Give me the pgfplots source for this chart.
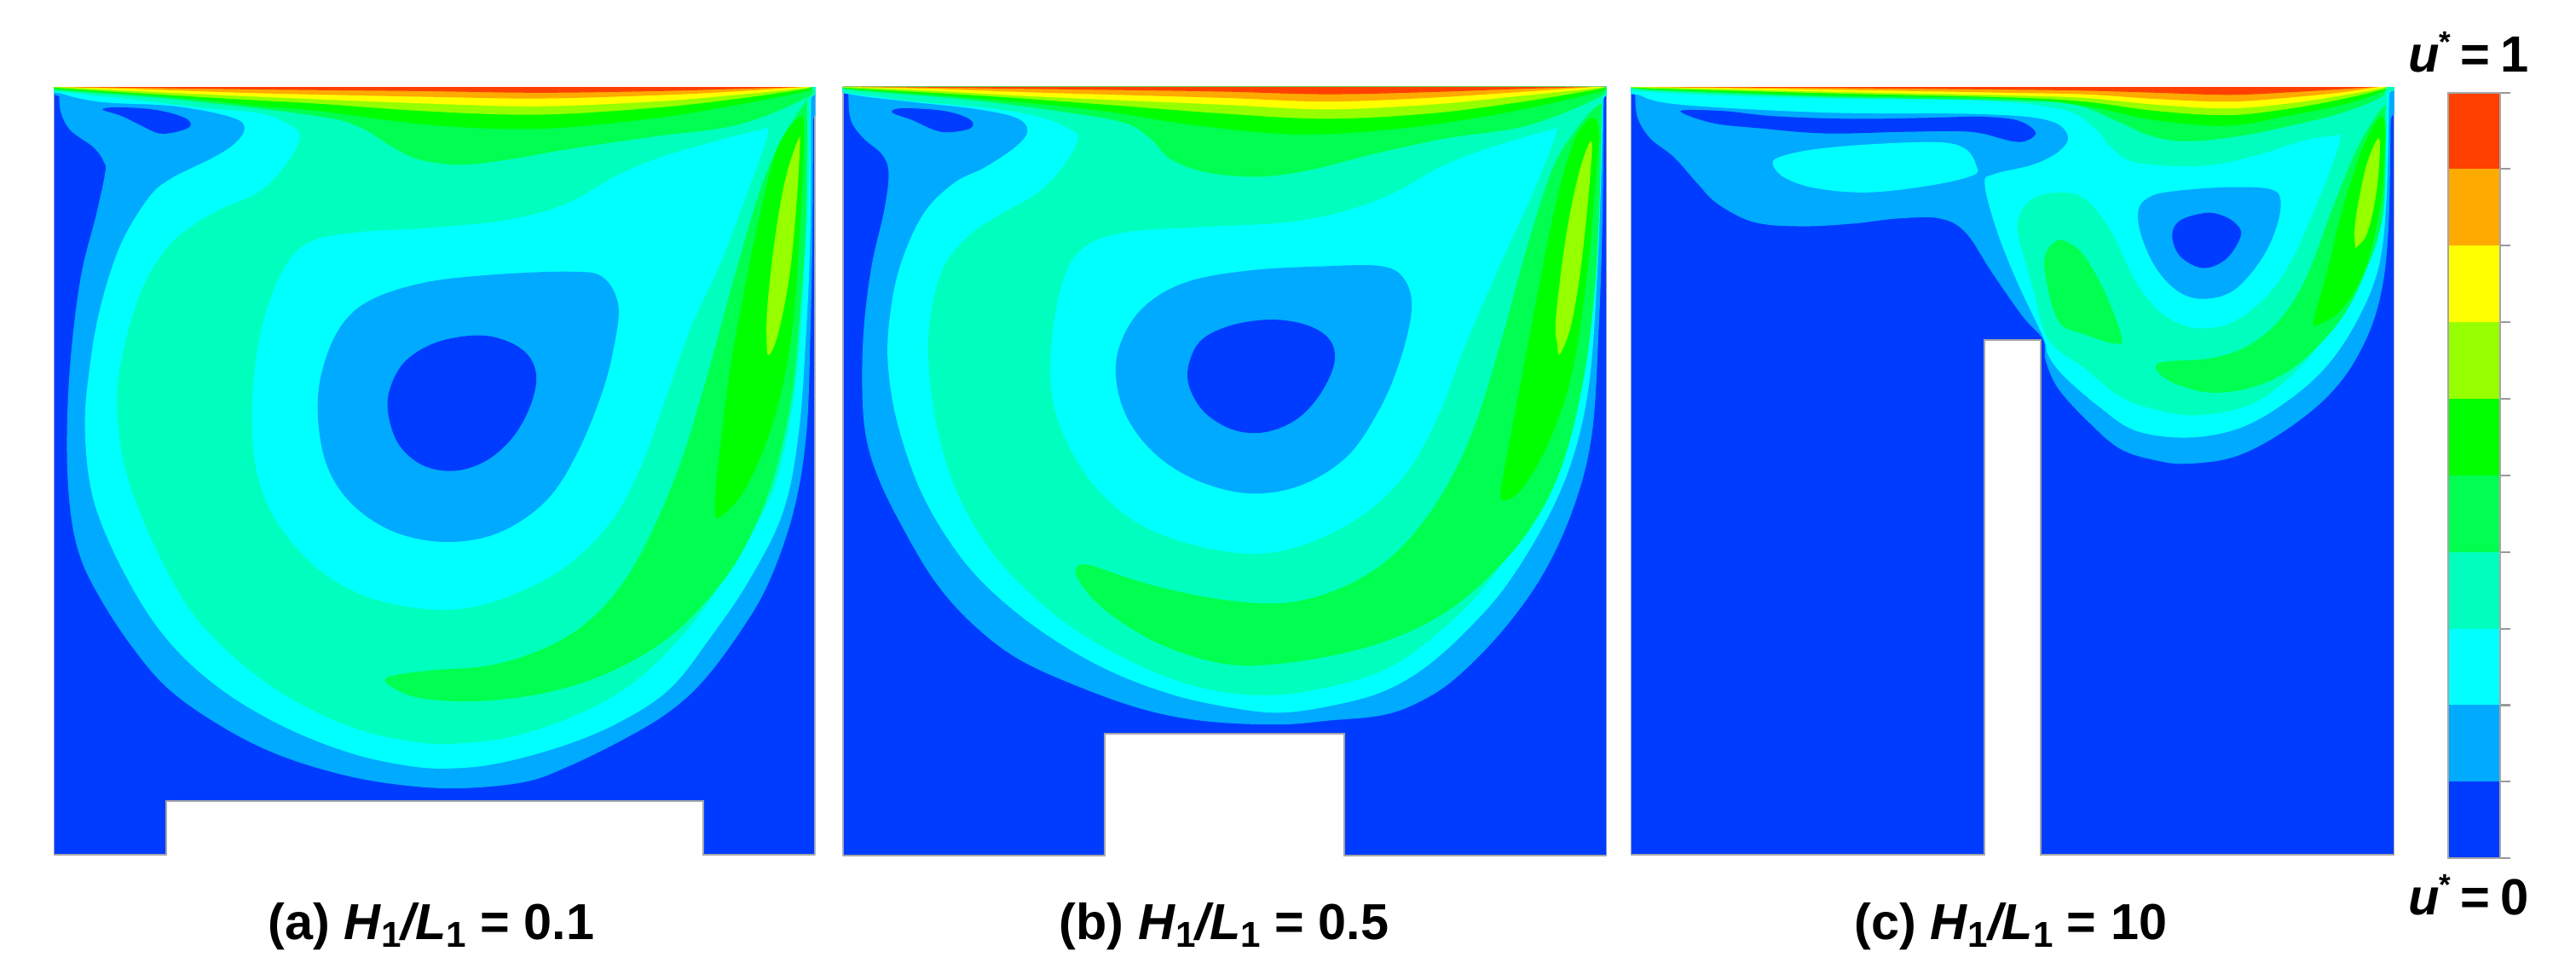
\documentclass[border=0pt]{standalone}
\usepackage{fontspec}
\setmainfont{Liberation Sans}
\usepackage{pgfplots}
\pgfplotsset{compat=1.18}

\definecolor{c0}{RGB}{0,60,255}
\definecolor{c1}{RGB}{0,170,255}
\definecolor{c2}{RGB}{0,255,255}
\definecolor{c3}{RGB}{0,255,190}
\definecolor{c4}{RGB}{0,255,80}
\definecolor{c5}{RGB}{0,255,0}
\definecolor{c6}{RGB}{150,255,0}
\definecolor{c7}{RGB}{255,255,0}
\definecolor{c8}{RGB}{255,170,0}
\definecolor{c9}{RGB}{255,64,0}

% closed contour, and a band hanging from the lid
\newcommand{\blob}[2]{\addplot[fill=#1,draw=none,smooth cycle,tension=0.6] coordinates {#2};}
\newcommand{\band}[2]{\addplot[fill=#1,draw=none,smooth,tension=0.6] coordinates {#2};}
\newcommand{\wall}[1]{\addplot[fill=c0,draw=gray!70,line width=0.6pt,sharp plot] coordinates {#1} --cycle;}

\pgfplotsset{panel/.style={
  scale only axis, hide axis, no marks, y dir=reverse, anchor=south west}}

\newcommand{\sub}{\raisebox{-0.28ex}{\fontsize{12}{12}\selectfont 1}}
\newcommand{\capt}[1]{\fontsize{16.9}{20}\selectfont\bfseries #1 \textit{H}\sub\textit{/L}\sub}
\newcommand{\ustar}{\fontsize{17}{20}\selectfont\bfseries\textit{u}\kern-0.02em\raisebox{0.75ex}{\fontsize{10}{10}\selectfont *}\kern0.2em=\kern0.2em}

\begin{document}
\begin{tikzpicture}
\path[use as bounding box] (0,0) rectangle (30.22,11.5);

%% (a) H1/L1 = 0.1
\begin{axis}[panel, at={(0.633cm,1.467cm)}, width=8.93cm, height=9.012cm,
  xmin=38, xmax=1512, ymin=36, ymax=1508]
\wall{(38,36)(1512,36)(1512,1508)(1295,1508)(1295,1404)(255,1404)(255,1508)(38,1508)}
\blob{c1}{(48,36)(48,54)(52,87)(71,120)(115,152)(135,180)(137,201)(120,280)(90,400)(70,560)(63,720)(70,850)(90,940)(130,1020)(190,1110)(260,1190)(360,1260)(470,1315)(600,1355)(720,1375)(830,1380)(950,1368)(1030,1340)(1130,1292)(1220,1240)(1290,1180)(1360,1090)(1420,990)(1470,850)(1495,700)(1503,500)(1507,300)(1508,100)(1508,36)}
\blob{c0}{(132,79)(165,75)(236,80)(291,95)(302,111)(275,122)(242,125)(209,111)(170,92)}
\blob{c2}{(55,36)(55,49)(132,65)(275,73)(385,95)(407,117)(385,147)(341,174)(264,212)(220,250)(165,343)(125,470)(105,590)(98,680)(105,780)(125,860)(170,960)(230,1060)(300,1140)(390,1210)(500,1270)(620,1315)(730,1338)(810,1342)(900,1332)(1020,1300)(1130,1255)(1230,1190)(1310,1090)(1385,980)(1450,850)(1480,700)(1495,500)(1503,300)(1504,60)(1504,36)}
\blob{c3}{(100,36)(100,50)(165,57)(330,76)(440,87)(495,109)(514,130)(495,174)(440,234)(357,272)(302,305)(258,343)(210,420)(175,530)(160,630)(170,740)(200,840)(250,950)(310,1050)(400,1140)(500,1210)(620,1265)(730,1290)(810,1295)(930,1280)(1060,1235)(1170,1170)(1270,1070)(1340,970)(1395,880)(1440,780)(1475,600)(1490,400)(1500,200)(1502,60)(1502,36)}
\blob{c2}{(1420,125)(1400,120)(1300,145)(1200,175)(1120,210)(1030,260)(920,290)(780,305)(620,315)(530,335)(480,390)(440,500)(422,640)(430,770)(470,870)(550,960)(650,1015)(780,1038)(880,1025)(980,985)(1060,930)(1130,850)(1180,750)(1220,640)(1270,500)(1330,370)(1380,240)}
\blob{c1}{(1100,400)(1040,390)(900,395)(760,410)(650,445)(590,500)(555,590)(550,680)(570,770)(620,840)(700,890)(800,908)(900,890)(990,830)(1050,740)(1100,620)(1125,520)(1130,450)}
\blob{c0}{(860,512)(780,525)(720,560)(690,610)(685,660)(705,720)(750,760)(810,772)(870,755)(920,715)(955,660)(972,600)(960,555)(920,525)}
\blob{c4}{(680,1170)(760,1155)(880,1145)(980,1115)(1060,1070)(1130,1000)(1190,900)(1250,760)(1300,600)(1350,420)(1400,250)(1440,150)(1490,70)(1496,80)(1494,300)(1480,500)(1465,640)(1430,790)(1380,910)(1320,1000)(1230,1090)(1120,1155)(1000,1195)(880,1212)(790,1212)(720,1200)}
\band{c4}{(45,36)(45,42)(275,60)(550,92)(632,114)(687,147)(742,174)(825,185)(924,174)(1034,155)(1199,131)(1364,108)(1498,55)(1500,36)}
\band{c5}{(46,36)(46,40)(275,56)(440,73)(550,82)(770,109)(980,116)(1200,96)(1350,72)(1495,44)(1498,36)}
\band{c6}{(48,36)(48,38)(300,54)(440,62)(550,68)(770,83)(980,89)(1200,76)(1350,60)(1492,40)(1495,36)}
\band{c7}{(50,36)(200,44)(440,55)(770,68)(980,73)(1200,64)(1350,52)(1490,38)(1492,36)}
\band{c8}{(55,36)(200,40)(440,48)(770,55)(980,58)(1200,52)(1350,45)(1490,36)}
\band{c9}{(60,36)(200,37.5)(330,39.5)(550,42)(760,44)(980,47)(1200,44)(1350,40)(1480,36)}
\blob{c5}{(1480,95)(1440,150)(1410,260)(1380,400)(1350,560)(1325,750)(1318,850)(1335,855)(1380,800)(1430,680)(1465,520)(1483,300)(1490,120)}
\blob{c6}{(1480,135)(1455,210)(1435,320)(1420,450)(1418,520)(1422,550)(1440,510)(1462,400)(1475,270)(1482,160)}
\end{axis}

%% (b) H1/L1 = 0.5
\begin{axis}[panel, at={(9.885cm,1.455cm)}, width=8.961cm, height=9.025cm,
  xmin=14, xmax=1493, ymin=36, ymax=1510]
\wall{(14,36)(1493,36)(1493,1510)(986,1510)(986,1276)(522,1276)(522,1510)(14,1510)}
\blob{c1}{(25,36)(25,50)(30,100)(55,135)(90,165)(103,200)(95,270)(70,380)(55,500)(52,620)(60,710)(85,790)(130,880)(190,980)(260,1060)(350,1130)(470,1185)(600,1230)(720,1252)(860,1258)(960,1250)(1060,1240)(1130,1215)(1200,1170)(1290,1080)(1370,970)(1430,840)(1465,700)(1478,500)(1485,300)(1488,60)(1488,36)}
\blob{c0}{(110,85)(130,77)(210,82)(260,98)(262,115)(220,123)(190,118)(150,100)}
\blob{c2}{(30,36)(30,50)(150,65)(270,78)(350,95)(372,120)(350,150)(290,190)(230,220)(170,280)(125,380)(105,480)(102,570)(120,680)(165,810)(230,920)(300,1000)(400,1080)(520,1150)(650,1200)(780,1228)(870,1235)(970,1220)(1060,1195)(1140,1150)(1220,1080)(1300,990)(1380,860)(1430,740)(1460,600)(1475,400)(1483,200)(1486,60)(1486,36)}
\blob{c3}{(100,36)(100,57)(300,77)(400,95)(450,115)(470,135)(440,190)(390,240)(320,280)(260,320)(210,380)(185,470)(180,560)(195,680)(230,800)(290,910)(370,1000)(470,1080)(600,1150)(720,1190)(840,1202)(960,1185)(1070,1150)(1170,1080)(1260,990)(1340,870)(1400,740)(1440,600)(1465,400)(1480,200)(1485,60)(1485,36)}
\blob{c2}{(1395,125)(1380,120)(1260,155)(1170,190)(1090,235)(1000,270)(880,295)(700,305)(560,315)(480,345)(440,410)(418,530)(420,630)(450,720)(510,810)(600,880)(720,920)(830,930)(930,905)(1030,850)(1110,770)(1170,660)(1220,530)(1290,370)(1350,240)}
\blob{c1}{(1060,380)(940,380)(800,388)(680,410)(600,455)(555,520)(543,590)(565,670)(620,740)(700,790)(800,815)(900,800)(990,745)(1050,660)(1090,570)(1115,470)(1105,410)}
\blob{c0}{(850,482)(770,492)(710,520)(685,565)(685,610)(715,660)(770,693)(830,698)(890,675)(935,630)(965,570)(960,525)(920,495)}
\blob{c4}{(465,960)(490,952)(560,975)(650,1000)(760,1020)(870,1025)(970,1000)(1060,950)(1130,880)(1190,790)(1240,680)(1290,520)(1340,340)(1390,190)(1440,110)(1480,70)(1483,100)(1478,300)(1465,480)(1440,640)(1400,780)(1340,890)(1260,980)(1170,1050)(1060,1100)(940,1130)(810,1145)(720,1135)(620,1100)(530,1045)(480,995)}
\band{c4}{(30,36)(30,42)(250,60)(450,85)(560,105)(610,135)(650,175)(720,200)(820,208)(920,195)(1040,165)(1180,135)(1340,110)(1480,55)(1482,36)}
\band{c5}{(30,36)(30,40)(250,56)(500,80)(700,110)(900,127)(1100,115)(1300,85)(1480,45)(1482,36)}
\band{c6}{(25,36)(25,38)(300,54)(550,72)(750,87)(950,97)(1150,87)(1320,66)(1478,40)(1480,36)}
\band{c7}{(25,36)(200,44)(400,55)(750,70)(950,79)(1150,70)(1320,54)(1475,38)(1478,36)}
\band{c8}{(30,36)(200,40)(400,47)(750,57)(950,64)(1150,57)(1320,46)(1470,36)}
\band{c9}{(50,36)(200,37.5)(350,39.5)(550,42)(750,45)(950,50)(1150,46)(1320,40)(1460,36)}
\blob{c5}{(1465,95)(1430,140)(1395,260)(1360,430)(1320,640)(1290,800)(1295,828)(1330,805)(1380,720)(1425,590)(1455,400)(1475,180)(1478,120)}
\blob{c6}{(1463,140)(1440,200)(1415,320)(1395,480)(1398,530)(1403,548)(1425,490)(1445,370)(1462,200)}
\end{axis}

%% (c) H1/L1 = 10
\begin{axis}[panel, at={(19.133cm,1.467cm)}, width=8.955cm, height=9.012cm,
  xmin=22, xmax=1500, ymin=36, ymax=1508]
\wall{(22,36)(1500,36)(1500,1508)(815,1508)(815,521)(707,521)(707,1508)(22,1508)}
\blob{c1}{(30,36)(30,50)(35,95)(60,135)(105,170)(150,220)(190,260)(260,295)(350,303)(450,298)(540,288)(620,288)(670,315)(720,390)(780,475)(820,520)(825,560)(850,615)(910,680)(970,730)(1040,752)(1100,758)(1190,745)(1280,700)(1370,630)(1430,550)(1470,450)(1488,320)(1493,100)(1493,36)}
\blob{c0}{(118,82)(200,82)(300,92)(450,97)(600,95)(700,93)(770,100)(805,122)(790,138)(760,140)(680,122)(550,122)(400,125)(270,115)(180,105)}
\blob{c2}{(40,36)(40,52)(120,70)(400,85)(700,88)(830,100)(868,130)(850,160)(800,185)(725,203)(707,222)(730,310)(770,410)(820,515)(830,550)(860,590)(930,650)(1000,695)(1100,708)(1200,690)(1290,640)(1370,570)(1430,480)(1470,380)(1485,250)(1490,50)(1490,36)}
\blob{c2}{(297,185)(310,170)(380,155)(500,145)(620,142)(670,155)(690,185)(685,205)(600,225)(480,238)(380,230)(320,210)}
\blob{c3}{(100,36)(100,48)(400,58)(700,62)(860,80)(920,115)(950,150)(990,178)(1060,187)(1150,185)(1240,165)(1320,140)(1380,130)(1395,140)(1350,260)(1300,370)(1250,440)(1180,490)(1110,497)(1050,470)(1000,410)(950,310)(900,250)(850,238)(800,250)(775,280)(772,320)(800,420)(830,520)(900,575)(970,630)(1040,655)(1120,665)(1220,645)(1300,590)(1370,510)(1430,410)(1465,300)(1483,150)(1486,50)(1486,36)}
\blob{c4}{(848,330)(825,355)(825,400)(850,485)(900,510)(960,528)(972,515)(940,430)(900,360)(870,335)}
\blob{c4}{(1038,570)(1060,562)(1150,555)(1220,530)(1280,480)(1330,400)(1380,270)(1430,150)(1478,75)(1482,100)(1478,280)(1440,400)(1390,490)(1310,570)(1230,610)(1150,622)(1090,610)(1050,590)}
\blob{c1}{(1080,235)(1030,245)(1005,270)(1010,320)(1040,385)(1085,430)(1135,442)(1190,425)(1240,370)(1270,310)(1280,255)(1260,232)(1180,228)}
\blob{c0}{(1130,278)(1085,292)(1070,320)(1085,360)(1130,383)(1175,365)(1203,320)(1190,295)(1160,280)}
\band{c4}{(60,36)(60,42)(400,55)(750,62)(880,70)(960,100)(1030,130)(1100,140)(1200,130)(1300,110)(1400,85)(1475,55)(1478,36)}
\band{c5}{(50,36)(50,40)(400,52)(750,58)(900,72)(1040,100)(1180,110)(1300,90)(1400,70)(1478,45)(1480,36)}
\band{c6}{(40,36)(40,38)(400,48)(750,56)(900,64)(1040,82)(1180,90)(1300,77)(1400,59)(1480,40)(1482,36)}
\band{c7}{(40,36)(400,45)(750,52)(900,57)(1040,70)(1180,77)(1300,67)(1400,52)(1475,38)(1478,36)}
\band{c8}{(50,36)(400,41)(750,47)(900,50)(1040,59)(1180,64)(1300,56)(1400,46)(1470,36)}
\band{c9}{(70,36)(400,38)(750,41)(900,43)(1040,47)(1180,51)(1300,46)(1400,40)(1460,36)}
\blob{c5}{(1472,95)(1440,150)(1400,270)(1370,390)(1345,480)(1352,492)(1400,460)(1445,380)(1475,250)(1483,120)}
\blob{c6}{(1468,135)(1445,190)(1425,290)(1424,340)(1428,342)(1448,315)(1465,240)(1472,160)}
\end{axis}

%% colour bar
\begin{axis}[scale only axis, at={(28.717cm,1.428cm)}, anchor=south west,
  width=0.61cm, height=8.986cm, xmin=0, xmax=1, ymin=0, ymax=1,
  axis line style={draw=gray!70,line width=0.6pt},
  xtick=\empty, ytick={0,0.1,0.2,0.3,0.4,0.5,0.6,0.7,0.8,0.9,1},
  yticklabels={}, ytick pos=right, tick align=outside,
  major tick length=0.125cm, tick style={draw=gray!80,line width=0.6pt}, axis on top]
\addplot[fill=c0,draw=none] coordinates {(0,0)(1,0)(1,0.1)(0,0.1)} --cycle;
\addplot[fill=c1,draw=none] coordinates {(0,0.1)(1,0.1)(1,0.2)(0,0.2)} --cycle;
\addplot[fill=c2,draw=none] coordinates {(0,0.2)(1,0.2)(1,0.3)(0,0.3)} --cycle;
\addplot[fill=c3,draw=none] coordinates {(0,0.3)(1,0.3)(1,0.4)(0,0.4)} --cycle;
\addplot[fill=c4,draw=none] coordinates {(0,0.4)(1,0.4)(1,0.5)(0,0.5)} --cycle;
\addplot[fill=c5,draw=none] coordinates {(0,0.5)(1,0.5)(1,0.6)(0,0.6)} --cycle;
\addplot[fill=c6,draw=none] coordinates {(0,0.6)(1,0.6)(1,0.7)(0,0.7)} --cycle;
\addplot[fill=c7,draw=none] coordinates {(0,0.7)(1,0.7)(1,0.8)(0,0.8)} --cycle;
\addplot[fill=c8,draw=none] coordinates {(0,0.8)(1,0.8)(1,0.9)(0,0.9)} --cycle;
\addplot[fill=c9,draw=none] coordinates {(0,0.9)(1,0.9)(1,1)(0,1)} --cycle;
\end{axis}

\node[anchor=base] at (5.06,0.47) {\capt{(a)} = 0.1};
\node[anchor=base] at (14.36,0.47) {\capt{(b)} = 0.5};
\node[anchor=base] at (23.59,0.47) {\capt{(c)} = 10};
\node[anchor=base west,inner sep=0pt] at (28.25,10.65) {\ustar 1};
\node[anchor=base west,inner sep=0pt] at (28.25,0.76) {\ustar 0};
\end{tikzpicture}
\end{document}
